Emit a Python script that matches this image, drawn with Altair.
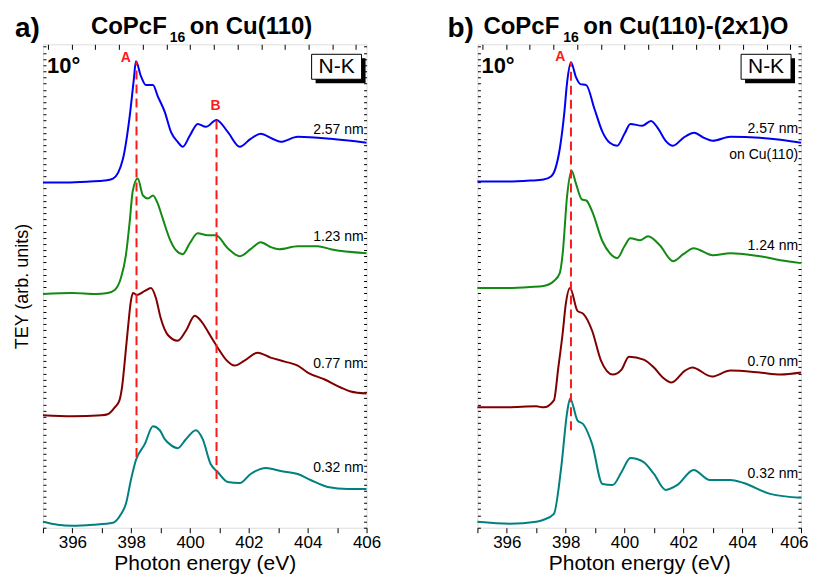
import altair as alt
import pandas as pd

FONT = "Liberation Sans"

# ---------------- data ----------------
# Panel a) CoPcF16 on Cu(110)
a_257_E = [395.0, 395.8, 396.6, 397.1, 397.38, 397.72, 397.95, 398.09, 398.16, 398.33, 398.5, 398.74, 398.9, 399.14,
           399.35, 399.58, 399.75, 399.99, 400.26, 400.54, 400.9, 401.28, 401.69, 402.06, 402.4, 402.8, 403.08, 403.66,
           404.78, 406.0]
a_257_Y = [347, 347, 348, 349, 351, 371, 414, 451, 469, 454, 445, 445, 434, 418, 398, 388, 383, 394, 406, 403, 410, 398,
           383, 391, 396, 391, 388, 393, 391, 387]

a_123_E = [395.0, 396.0, 396.8, 397.2, 397.44, 397.65, 397.82, 397.95, 398.05, 398.22, 398.4, 398.57, 398.74, 398.9,
           399.07, 399.3, 399.52, 399.75, 399.99, 400.26, 400.6, 400.88, 401.28, 401.69, 402.06, 402.4, 402.75, 403.03,
           403.66, 404.34, 404.78, 406.0]
a_123_Y = [235, 236, 235, 236, 239, 251, 274, 308, 338, 351, 334, 331, 334, 326, 311, 291, 279, 275, 286, 296, 294, 294,
           281, 273, 280, 287, 282, 280, 283, 283, 280, 276]

a_077_E = [395.0, 396.0, 397.0, 397.2, 397.44, 397.6, 397.7, 397.75, 397.89, 397.99, 398.06, 398.2, 398.46, 398.67,
           398.84, 399.0, 399.24, 399.58, 399.86, 400.16, 400.37, 400.67, 400.94, 401.22, 401.52, 401.85, 402.3, 402.74,
           403.22, 403.66, 404.0, 404.58, 405.12, 405.46, 406.0]
a_077_Y = [113, 112, 113, 114, 121, 128, 144, 158, 201, 228, 236, 234, 238, 241, 231, 211, 194, 188, 198, 213, 208, 194,
           181, 169, 163, 168, 176, 171, 167, 163, 156, 149, 141, 137, 135]

a_032_E = [395.0, 395.5, 396.0, 396.7, 397.38, 397.66, 397.82, 397.99, 398.16, 398.46, 398.74, 398.97, 399.14, 399.35,
           399.58, 399.86, 400.2, 400.43, 400.7, 400.94, 401.28, 401.69, 402.06, 402.58, 403.08, 403.66, 404.1, 404.68,
           405.36, 406.0]
a_032_Y = [6, 3, 2, 3, 5, 14, 24, 48, 68, 84, 102, 98, 89, 83, 80, 89, 98, 89, 64, 56, 46, 45, 54, 60, 57, 54, 48, 41,
           39, 39]

# Panel b) CoPcF16 on Cu(110)-(2x1)O
b_257_E = [395.0, 396.0, 396.8, 397.25, 397.5, 397.65, 397.8, 397.95, 398.05, 398.18, 398.35, 398.5, 398.7, 398.98,
           399.25, 399.5, 399.75, 400.0, 400.2, 400.6, 400.9, 401.15, 401.4, 401.65, 402.0, 402.37, 402.7, 403.0,
           403.6, 404.6, 405.3, 406.0]
b_257_Y = [348, 348, 349, 350, 353, 361, 381, 416, 448, 468, 453, 446, 445, 421, 398, 387, 384, 396, 406, 404, 409, 401,
           389, 384, 392, 397, 392, 389, 393, 392, 390, 387]

b_124_E = [395.0, 396.0, 396.8, 397.25, 397.6, 397.8, 397.9, 398.05, 398.2, 398.35, 398.55, 398.7, 398.9, 399.25,
           399.5, 399.75, 400.0, 400.2, 400.53, 400.8, 401.2, 401.65, 402.0, 402.35, 403.0, 403.6, 404.6, 405.3, 406.0]
b_124_Y = [241, 241, 242, 243, 248, 256, 276, 334, 359, 346, 330, 329, 318, 288, 276, 271, 283, 291, 289, 293, 284, 268,
           275, 281, 274, 276, 273, 269, 266]

b_070_E = [395.0, 396.0, 397.0, 397.25, 397.6, 397.75, 397.9, 398.0, 398.15, 398.4, 398.6, 398.9, 399.2, 399.6, 399.9,
           400.15, 400.65, 401.0, 401.3, 401.6, 402.06, 402.3, 402.97, 403.6, 404.6, 405.3, 406.0]
b_070_Y = [121, 121, 122, 121, 128, 161, 196, 224, 241, 218, 215, 198, 168, 154, 159, 172, 169, 161, 151, 146, 158, 161,
           152, 158, 156, 154, 156]

b_032_E = [395.0, 396.1, 397.0, 397.25, 397.6, 397.85, 398.05, 398.15, 398.4, 398.6, 398.9, 399.25, 399.6, 399.9,
           400.2, 400.65, 401.0, 401.4, 401.8, 402.35, 402.9, 403.6, 404.05, 404.95, 406.0]
b_032_Y = [6, 4, 6, 8, 14, 61, 116, 130, 108, 104, 84, 44, 43, 56, 70, 66, 54, 38, 43, 58, 48, 48, 45, 34, 30]

SERIES = ["2.57 nm", "1.23 nm", "1.24 nm", "0.77 nm", "0.70 nm", "0.32 nm"]
SERIES_COLORS = ["#0000f5", "#138a13", "#138a13", "#800000", "#800000", "#008080"]

# series labels (panel, text, energy, height)
label_panel = ["a", "a", "a", "a", "b", "b", "b", "b", "b"]
label_text = ["2.57 nm", "1.23 nm", "0.77 nm", "0.32 nm", "2.57 nm", "on Cu(110)", "1.24 nm", "0.70 nm", "0.32 nm"]
label_E = [405.9, 405.9, 405.9, 405.9, 405.9, 405.9, 405.9, 405.9, 405.9]
label_Y = [400, 292, 165, 60, 401, 375, 283, 167, 54]

# red dashed markers (panel, energy, lower, upper)
mark_panel = ["a", "a", "b"]
mark_E = [398.18, 400.9, 398.18]
mark_lo = [71, 49, 98]
mark_hi = [469, 410, 468]

# marker letters
letter_panel = ["a", "a", "b"]
letter_text = ["A", "B", "A"]
letter_E = [397.82, 400.87, 397.82]
letter_Y = [472, 424, 473]

X_TICKS = list(range(395, 407))
TOP_TICKS = [395.17, 395.97, 396.78, 397.59, 398.39, 399.2, 400.0, 400.81, 401.61, 402.42, 403.22, 404.03, 404.83,
             405.64]
Y_TICKS = [round(i * 6.2, 1) for i in range(79)]

# ---------------- tables ----------------
parts = []
for p, name, E, Y in [("a", "2.57 nm", a_257_E, a_257_Y), ("a", "1.23 nm", a_123_E, a_123_Y),
                      ("a", "0.77 nm", a_077_E, a_077_Y), ("a", "0.32 nm", a_032_E, a_032_Y),
                      ("b", "2.57 nm", b_257_E, b_257_Y), ("b", "1.24 nm", b_124_E, b_124_Y),
                      ("b", "0.70 nm", b_070_E, b_070_Y), ("b", "0.32 nm", b_032_E, b_032_Y)]:
    parts.append(pd.DataFrame({"panel": p, "series": name, "E": E, "Y": Y}))
curves = pd.concat(parts, ignore_index=True)
labels = pd.DataFrame({"panel": label_panel, "text": label_text, "E": label_E, "Y": label_Y})
marks = pd.DataFrame({"panel": mark_panel, "E": mark_E, "lo": mark_lo, "hi": mark_hi})
letters = pd.DataFrame({"panel": letter_panel, "text": letter_text, "E": letter_E, "Y": letter_Y})
ONE = pd.DataFrame({"k": [0]})

W, H = 324, 484
XS = alt.Scale(domain=[395, 406], nice=False, zero=False)
YS = alt.Scale(domain=[0, 486], nice=False, zero=False)


def txt(t, x, y, size, weight="normal", color="black", align="left", baseline="top"):
    return alt.Chart(ONE).mark_text(text=t, fontSize=size, fontWeight=weight, color=color, align=align,
                                    baseline=baseline, font=FONT).encode(x=alt.value(x), y=alt.value(y))


def panel(p, ytitle, letter, subtitle, box_x, tx, flush):
    bottom = alt.Axis(orient="bottom", values=X_TICKS, labelExpr="datum.value % 2 == 0 ? datum.label : ''",
                      tickSize=5, tickColor="black", labelFontSize=17, labelColor="black", labelFont=FONT,
                      labelPadding=2, labelFlush=flush, labelFlushOffset=7, labelOverlap=False,
                      title="Photon energy (eV)",
                      titleFontSize=21, titleFontWeight="normal", titleColor="black", titleFont=FONT,
                      titlePadding=2, domain=False, grid=False)
    left = alt.Axis(orient="left", values=Y_TICKS, labels=False, domain=False, grid=False, tickSize=3, offset=-3,
                    tickColor="black", title=ytitle, titleFontSize=18, titleFontWeight="normal",
                    titleColor="black", titleFont=FONT, titlePadding=11)
    top = alt.Axis(orient="top", values=TOP_TICKS, labels=False, domain=False, grid=False, tickSize=5, offset=-5,
                   tickColor="black", title=None)
    right = alt.Axis(orient="right", values=Y_TICKS, labels=False, domain=False, grid=False, tickSize=3, offset=-3,
                     tickColor="black", title=None)

    lines = alt.Chart(curves[curves.panel == p]).mark_line(strokeWidth=2, interpolate="monotone").encode(
        x=alt.X("E:Q", scale=XS, axis=bottom),
        y=alt.Y("Y:Q", scale=YS, axis=left),
        color=alt.Color("series:N", scale=alt.Scale(domain=SERIES, range=SERIES_COLORS), legend=None),
        detail="series:N",
    )
    rules = alt.Chart(marks[marks.panel == p]).mark_rule(color="#ff1a1a", strokeWidth=2, strokeDash=[9, 5]).encode(
        x=alt.X("E:Q", scale=XS, axis=top),
        y=alt.Y("lo:Q", scale=YS, axis=right),
        y2="hi:Q",
    )
    lab = alt.Chart(labels[labels.panel == p]).mark_text(align="right", baseline="middle", fontSize=14,
                                                         font=FONT, color="black").encode(
        x=alt.X("E:Q", scale=XS, axis=None), y=alt.Y("Y:Q", scale=YS, axis=None), text="text:N")
    let = alt.Chart(letters[letters.panel == p]).mark_text(align="center", baseline="middle", fontSize=14,
                                                           fontWeight="bold", font=FONT, color="#ff1a1a").encode(
        x=alt.X("E:Q", scale=XS, axis=None), y=alt.Y("Y:Q", scale=YS, axis=None), text="text:N")
    shadow = alt.Chart(ONE).mark_rect(color="black").encode(
        x=alt.value(box_x + 4), x2=alt.value(box_x + 54), y=alt.value(14), y2=alt.value(39))
    box = alt.Chart(ONE).mark_rect(fill="white", stroke="black", strokeWidth=1).encode(
        x=alt.value(box_x), x2=alt.value(box_x + 50), y=alt.value(10), y2=alt.value(35))
    nk = txt("N-K", box_x + 25, 23, 21, align="center", baseline="middle")
    deg = txt("10°", 4, 29, 22, weight="bold", baseline="alphabetic")
    t1 = txt(letter, tx[0], -29, 28, weight="bold")
    t2 = txt("CoPcF", tx[1], -29, 24, weight="bold")
    t3 = txt("16", tx[2], -13, 14, weight="bold")
    t4 = txt(subtitle, tx[3], -29, 24, weight="bold")
    return alt.layer(lines, rules, lab, let, shadow, box, nk, deg, t1, t2, t3, t4).resolve_axis(
        x="independent", y="independent").properties(width=W, height=H)


pa = panel("a", "TEY (arb. units)", "a)", "on Cu(110)", 269, [-28, 48, 127, 147], False)
pb = panel("b", None, "b)", "on Cu(110)-(2x1)O", 264, [-30, 6, 86, 106], True)

chart = alt.hconcat(pa, pb, spacing=65).properties(
    padding={"left": 5, "right": 0, "top": 6, "bottom": 0}
).configure_view(stroke="black", strokeWidth=1.5).configure(font=FONT)

chart.save("out.html", embed_options={"renderer": "svg", "actions": False})
